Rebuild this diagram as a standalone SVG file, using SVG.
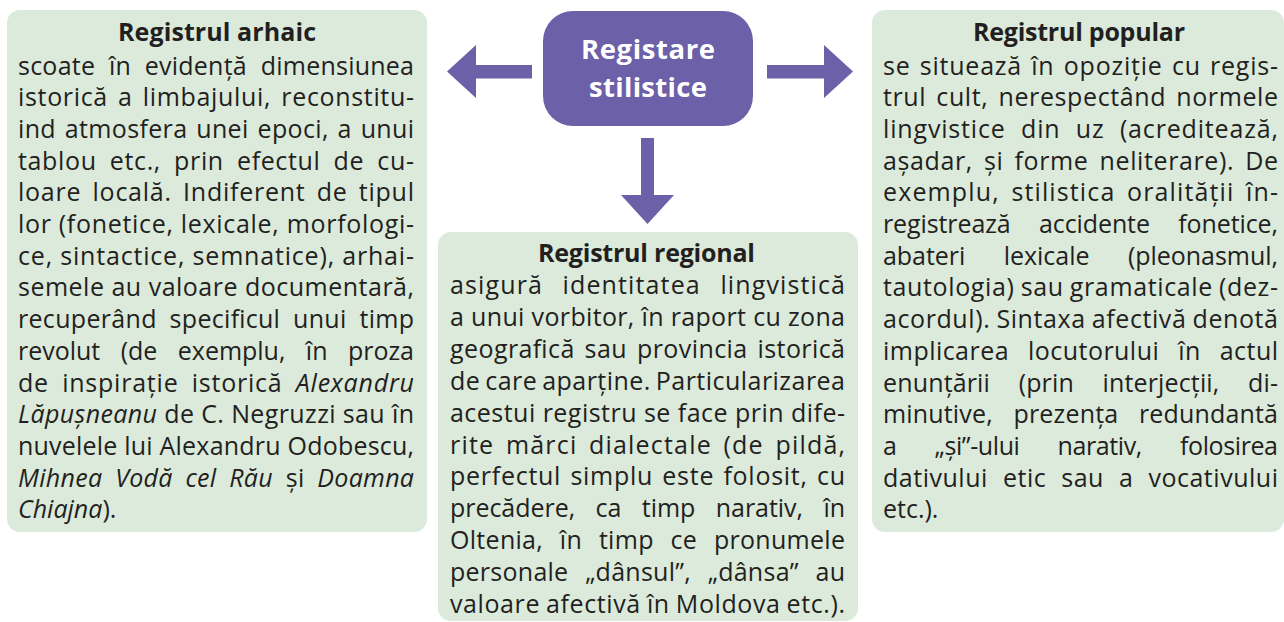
<svg xmlns="http://www.w3.org/2000/svg" width="1284" height="622" viewBox="0 0 1284 622">
<style>
.box{fill:#dbeadb}
.t{font-family:"Open Sans","DejaVu Sans",sans-serif;font-size:25px;fill:#231f20}
.h{font-weight:bold;text-anchor:middle}
.c{font-family:"Open Sans","DejaVu Sans",sans-serif;fill:#ffffff;font-weight:bold;font-size:27.5px;text-anchor:middle}
.i{font-style:italic}
.arrow{fill:#6c60a8}
</style>
<rect width="1284" height="622" fill="#ffffff"/>
<g id="connectors">
<polygon class="arrow" points="447,71.5 476,45 476,65 532,65 532,78.5 476,78.5 476,98"/>
<polygon class="arrow" points="853,71.5 824,45 824,65 767,65 767,78.5 824,78.5 824,98"/>
<polygon class="arrow" points="647.5,224 621,195 641,195 641,138 654,138 654,195 674,195"/>
</g>
<g id="center">
<rect x="543" y="11" width="210" height="115" rx="30" fill="#6c60a8"/>
<text class="c" x="648" y="58.5" textLength="134" lengthAdjust="spacing">Registare</text>
<text class="c" x="648" y="96.5" textLength="118" lengthAdjust="spacing">stilistice</text>
</g>
<g id="arhaic">
<rect class="box" x="7" y="10" width="420" height="522" rx="13"/>
<text class="t h" x="217" y="41" textLength="198" lengthAdjust="spacing">Registrul arhaic</text>
<text class="t" x="18" y="74.5" textLength="396" lengthAdjust="spacing" style="word-spacing:7px">scoate în evidență dimensiunea</text>
<text class="t" x="18" y="106.2" textLength="396" lengthAdjust="spacing" style="word-spacing:3px">istorică a limbajului, reconstitu-</text>
<text class="t" x="18" y="137.9" textLength="396" lengthAdjust="spacing" style="word-spacing:2px">ind atmosfera unei epoci, a unui</text>
<text class="t" x="18" y="169.6" textLength="396" lengthAdjust="spacing" style="word-spacing:6px">tablou etc., prin efectul de cu-</text>
<text class="t" x="18" y="201.3" textLength="396" lengthAdjust="spacing" style="word-spacing:4px">loare locală. Indiferent de tipul</text>
<text class="t" x="18" y="233" textLength="396" lengthAdjust="spacing">lor (fonetice, lexicale, morfologi-</text>
<text class="t" x="18" y="264.7" textLength="396" lengthAdjust="spacing">ce, sintactice, semnatice), arhai-</text>
<text class="t" x="18" y="296.4" textLength="396" lengthAdjust="spacing">semele au valoare documentară,</text>
<text class="t" x="18" y="328.1" textLength="396" lengthAdjust="spacing" style="word-spacing:6px">recuperând specificul unui timp</text>
<text class="t" x="18" y="359.8" textLength="396" lengthAdjust="spacing" style="word-spacing:14px">revolut (de exemplu, în proza</text>
<text class="t" x="18" y="391.5" textLength="396" lengthAdjust="spacing" style="word-spacing:6px">de inspirație istorică <tspan class="i">Alexandru</tspan></text>
<text class="t" x="18" y="423.2" textLength="396" lengthAdjust="spacing"><tspan class="i">Lăpușneanu</tspan> de C. Negruzzi sau în</text>
<text class="t" x="18" y="454.9" textLength="396" lengthAdjust="spacing">nuvelele lui Alexandru Odobescu,</text>
<text class="t" x="18" y="486.6" textLength="396" lengthAdjust="spacing" style="word-spacing:6px"><tspan class="i">Mihnea Vodă cel Rău</tspan> și <tspan class="i">Doamna</tspan></text>
<text class="t" x="18" y="518.3"><tspan class="i">Chiajna</tspan>).</text>
</g>
<g id="regional">
<rect class="box" x="438" y="232" width="420" height="389" rx="13"/>
<text class="t h" x="646.5" y="262" textLength="217" lengthAdjust="spacing">Registrul regional</text>
<text class="t" x="450" y="294" textLength="395" lengthAdjust="spacing" style="word-spacing:12px">asigură identitatea lingvistică</text>
<text class="t" x="450" y="325.9" textLength="395" lengthAdjust="spacing">a unui vorbitor, în raport cu zona</text>
<text class="t" x="450" y="357.8" textLength="395" lengthAdjust="spacing" style="word-spacing:3px">geografică sau provincia istorică</text>
<text class="t" x="450" y="389.7" textLength="395" lengthAdjust="spacing" style="word-spacing:-2px">de care aparține. Particularizarea</text>
<text class="t" x="450" y="421.6" textLength="395" lengthAdjust="spacing">acestui registru se face prin dife-</text>
<text class="t" x="450" y="453.5" textLength="395" lengthAdjust="spacing" style="word-spacing:4px">rite mărci dialectale (de pildă,</text>
<text class="t" x="450" y="485.4" textLength="395" lengthAdjust="spacing" style="word-spacing:2px">perfectul simplu este folosit, cu</text>
<text class="t" x="450" y="517.3" textLength="395" lengthAdjust="spacing" style="word-spacing:14px">precădere, ca timp narativ, în</text>
<text class="t" x="450" y="549.2" textLength="395" lengthAdjust="spacing" style="word-spacing:10px">Oltenia, în timp ce pronumele</text>
<text class="t" x="450" y="581.1" textLength="395" lengthAdjust="spacing" style="word-spacing:10px">personale „dânsul”, „dânsa” au</text>
<text class="t" x="450" y="613" textLength="395" lengthAdjust="spacing" style="word-spacing:-1px">valoare afectivă în Moldova etc.).</text>
</g>
<g id="popular">
<rect class="box" x="872" y="10" width="412" height="522" rx="13"/>
<text class="t h" x="1079" y="41" textLength="212" lengthAdjust="spacing">Registrul popular</text>
<text class="t" x="883" y="74.5" textLength="395" lengthAdjust="spacing" style="word-spacing:2px">se situează în opoziție cu regis-</text>
<text class="t" x="883" y="106.2" textLength="395" lengthAdjust="spacing" style="word-spacing:3px">trul cult, nerespectând normele</text>
<text class="t" x="883" y="137.9" textLength="395" lengthAdjust="spacing" style="word-spacing:8px">lingvistice din uz (acreditează,</text>
<text class="t" x="883" y="169.6" textLength="395" lengthAdjust="spacing" style="word-spacing:4px">așadar, și forme neliterare). De</text>
<text class="t" x="883" y="201.3" textLength="395" lengthAdjust="spacing" style="word-spacing:4px">exemplu, stilistica oralității în-</text>
<text class="t" x="883" y="233" textLength="395" lengthAdjust="spacing" style="word-spacing:22px">registrează accidente fonetice,</text>
<text class="t" x="883" y="264.7" textLength="395" lengthAdjust="spacing" style="word-spacing:32px">abateri lexicale (pleonasmul,</text>
<text class="t" x="883" y="296.4" textLength="395" lengthAdjust="spacing" style="word-spacing:-1px">tautologia) sau gramaticale (dez-</text>
<text class="t" x="883" y="328.1" textLength="395" lengthAdjust="spacing" style="word-spacing:-1px">acordul). Sintaxa afectivă denotă</text>
<text class="t" x="883" y="359.8" textLength="395" lengthAdjust="spacing" style="word-spacing:12px">implicarea locutorului în actul</text>
<text class="t" x="883" y="391.5" textLength="395" lengthAdjust="spacing" style="word-spacing:22px">enunțării (prin interjecții, di-</text>
<text class="t" x="883" y="423.2" textLength="395" lengthAdjust="spacing" style="word-spacing:14px">minutive, prezența redundantă</text>
<text class="t" x="883" y="454.9" textLength="395" lengthAdjust="spacing" style="word-spacing:32px">a „și”-ului narativ, folosirea</text>
<text class="t" x="883" y="486.6" textLength="395" lengthAdjust="spacing" style="word-spacing:8px">dativului etic sau a vocativului</text>
<text class="t" x="883" y="518.3">etc.).</text>
</g>
</svg>
